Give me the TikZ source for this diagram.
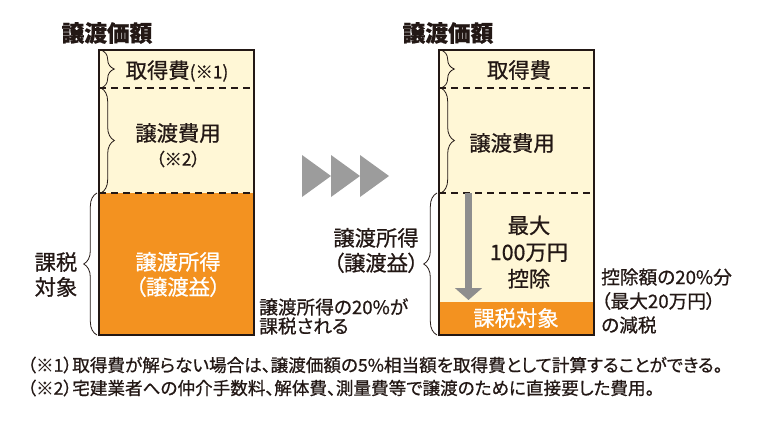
\documentclass[tikz,border=0pt]{standalone}
\usepackage{fontspec}
\setmainfont{Noto Sans CJK JP}[RawFeature=+palt, FakeBold=0.7]
\usetikzlibrary{decorations.pathreplacing,arrows.meta}
\definecolor{ink}{HTML}{231815}
\definecolor{cream}{HTML}{FFF7D6}
\definecolor{gain}{HTML}{F39220}
\definecolor{chevron}{HTML}{9C9C9C}
\definecolor{shaft}{HTML}{8E8E8E}
\begin{document}
\begin{tikzpicture}[x=0.75pt,y=-0.75pt,
    heading/.style ={font=\bfseries\fontsize{17}{20}\selectfont, text=ink},
    boxtext/.style ={font=\fontsize{16}{18.75}\selectfont, text=ink, align=center, inner sep=0pt},
    remark/.style ={font=\fontsize{14}{14.25}\selectfont, text=ink, align=left, inner sep=0pt, anchor=west},
    footnote/.style ={font=\fontsize{13.2}{15}\selectfont, text=ink, inner sep=0pt, anchor=west},
    divider/.style ={draw=ink, line width=1.5pt, dash pattern=on 5.5pt off 3.5pt},
    frame/.style ={draw=ink, line width=1.8pt},
    bracket/.style ={draw=ink, line width=0.6pt, decorate, decoration={brace, amplitude=10pt, aspect=0.5}},
    sink/.style ={draw=shaft, line width=5.25pt, -{Triangle[width=20pt,length=9pt]}}]
   \useasboundingbox (0,0) rectangle (770,426);

   \coordinate (l0w) at (99,50);   \coordinate (l0e) at (254,50);
   \coordinate (l1w) at (99,88);   \coordinate (l1e) at (254,88);
   \coordinate (l2w) at (99,193);  \coordinate (l2e) at (254,193);
   \coordinate (l3w) at (99,335);  \coordinate (l3e) at (254,335);

   \coordinate (r0w) at (439,50);  \coordinate (r0e) at (594,50);
   \coordinate (r1w) at (439,88);  \coordinate (r1e) at (594,88);
   \coordinate (r2w) at (439,193); \coordinate (r2e) at (594,193);
   \coordinate (r3w) at (439,302); \coordinate (r3e) at (594,302);
   \coordinate (r4w) at (439,335); \coordinate (r4e) at (594,335);

   \fill[cream] (l0w) rectangle (l2e);
   \fill[gain] (l2w) rectangle (l3e);
   \fill[cream] (r0w) rectangle (r3e);
   \fill[gain] (r3w) rectangle (r4e);

   \draw[divider] (l1w) -- (l1e);
   \draw[divider] (l2w) -- (l2e);
   \draw[divider] (r1w) -- (r1e);
   \draw[divider] (r2w) -- (r2e);
   \draw[frame] (l0w) rectangle (l3e);
   \draw[frame] (r0w) rectangle (r4e);

   \draw[bracket] ([xshift=1.5pt]l0w) -- ([xshift=1.5pt]l1w);
   \draw[bracket] ([xshift=1.5pt]l1w) -- ([xshift=1.5pt]l2w);
   \draw[bracket] ([xshift=-1.5pt]l3w) -- ([xshift=-1.5pt]l2w);
   \draw[bracket] ([xshift=1.5pt]r0w) -- ([xshift=1.5pt]r1w);
   \draw[bracket] ([xshift=1.5pt]r1w) -- ([xshift=1.5pt]r2w);
   \draw[bracket] ([xshift=-1.5pt]r4w) -- ([xshift=-1.5pt]r2w);

   \foreach \i in {0,1,2}
      \fill[chevron] (302+29*\i,155) -- (302+29*\i,197) -- (331+29*\i,176) -- cycle;

   \coordinate (dtop) at (468.5,193);
   \coordinate (dbot) at (468.5,300);
   \draw[sink] (dtop) -- (dbot);

   \node[heading] (ltitle) at (107,33) {譲渡価額};
   \node[heading] (rtitle) at (448,33) {譲渡価額};

   \node[boxtext] (lacq) at (177,71) {取得費{\fontsize{13}{15}\selectfont (※1)}};
   \node[boxtext] (lcost) at (178,133) {譲渡費用};
   \node[boxtext, font=\fontsize{13}{15}\selectfont] (lnote) at (178,159) {（※2）};
   \node[boxtext, text=white] (lgain) at (178,274.5) {譲渡所得\\（譲渡益）};
   \node[boxtext] (ltax) at (56,274.5) {課税\\対象};
   \node[remark] (lrate) at (259,316.5) {譲渡所得の20\%が\\課税される};

   \node[boxtext] (racq) at (519,70) {取得費};
   \node[boxtext] (rcost) at (512,143) {譲渡費用};
   \node[boxtext, font=\fontsize{16}{20}\selectfont] (rdeduct) at (529,252) {最大\\100万円\\控除};
   \node[boxtext, text=white] (rtax) at (516,318) {課税対象};
   \node[boxtext] (rgain) at (376,250.5) {譲渡所得\\（譲渡益）};
   \node[remark, font=\fontsize{14}{18}\selectfont] (rcut) at (601,301) {控除額の20\%分\\（最大20万円）\\の減税};

   \node[footnote] (fn1) at (27,365) {（※1）取得費が解らない場合は、譲渡価額の5\%相当額を取得費として計算することができる。};
   \node[footnote] (fn2) at (27,388) {（※2）宅建業者への仲介手数料、解体費、測量費等で譲渡のために直接要した費用。};
 \end{tikzpicture}
\end{document}
